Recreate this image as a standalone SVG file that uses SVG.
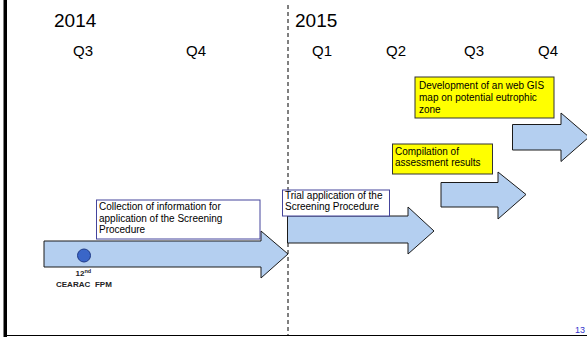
<svg xmlns="http://www.w3.org/2000/svg" width="587" height="337" viewBox="0 0 587 337">
  <style>
    .yr { font-family: "Liberation Sans", Arial, sans-serif; font-size: 19px; fill: #000; }
    .q { font-family: "Liberation Sans", Arial, sans-serif; font-size: 15px; fill: #000; }
    .lbl { font-family: "Liberation Sans", Arial, sans-serif; font-size: 10px; fill: #000; }
    .arrow { fill: #b4cff0; stroke: #1a1a1a; stroke-width: 1; }
    .box { fill: #ffffff; stroke: #44449c; stroke-width: 1; }
    .ybox { fill: #ffff00; stroke: #333333; stroke-width: 1; }
    .mark { font-family: "Liberation Sans", Arial, sans-serif; font-weight: bold; fill: #222; }
  </style>

  <rect width="587" height="337" fill="#ffffff"/>

  <!-- frame -->
  <rect x="3.5" y="0" width="3.5" height="337" fill="#000"/>
  <line x1="4" y1="335.5" x2="587" y2="335.5" stroke="#000" stroke-width="1"/>

  <!-- year divider -->
  <line x1="288" y1="5" x2="288" y2="335" stroke="#000" stroke-width="1" stroke-dasharray="4 3"/>

  <!-- timeline headings -->
  <g id="axis">
    <text class="yr" x="54" y="27">2014</text>
    <text class="q" x="73" y="56">Q3</text>
    <text class="q" x="186" y="56">Q4</text>
    <text class="yr" x="295" y="27">2015</text>
    <text class="q" x="312" y="56">Q1</text>
    <text class="q" x="386" y="56">Q2</text>
    <text class="q" x="464" y="56">Q3</text>
    <text class="q" x="538" y="56">Q4</text>
  </g>

  <!-- activity arrows -->
  <g id="connectors">
    <path class="arrow" d="M44,241 H261 V231 L288,254 L261,278 V267 H44 Z"/>
    <path class="arrow" d="M287.5,216 H408 V207 L434,231 L408,254 V243 H287.5 Z"/>
    <path class="arrow" d="M441,182.5 H498 V172 L526,194.5 L498,219 V207 H441 Z"/>
    <path class="arrow" d="M512.5,124.5 H561 V113 L589,137 L561,161.5 V150 H512.5 Z"/>
  </g>

  <g id="collection">
    <rect class="box" x="96.5" y="200" width="163.5" height="39"/>
    <text class="lbl" x="99" y="210">Collection of information for</text>
    <text class="lbl" x="99" y="221.5">application of the Screening</text>
    <text class="lbl" x="99" y="233">Procedure</text>
  </g>

  <g id="trial">
    <rect class="box" x="282.5" y="190" width="107" height="26"/>
    <text class="lbl" x="285" y="198.5">Trial application of the</text>
    <text class="lbl" x="285" y="209.5">Screening Procedure</text>
  </g>

  <g id="compilation">
    <rect class="ybox" x="392.5" y="144" width="100" height="30"/>
    <text class="lbl" x="395" y="155">Compilation of</text>
    <text class="lbl" x="395" y="166">assessment results</text>
  </g>

  <g id="webgis">
    <rect class="ybox" x="415" y="77" width="139" height="41"/>
    <text class="lbl" x="419" y="89">Development of an web GIS</text>
    <text class="lbl" x="419" y="100.5">map on potential eutrophic</text>
    <text class="lbl" x="419" y="112.5">zone</text>
  </g>

  <g id="fpm">
    <circle cx="84" cy="255.5" r="6.5" fill="#3a66c8" stroke="#1f3a88" stroke-width="1"/>
    <text class="mark" x="75.5" y="276" font-size="8">12<tspan font-size="5.5" dy="-3">nd</tspan></text>
    <text class="mark" x="56" y="286.5" font-size="8" word-spacing="2.5">CEARAC FPM</text>
  </g>

  <!-- page number -->
  <text x="585" y="333" text-anchor="end" font-family="Liberation Sans, Arial, sans-serif" font-size="9" fill="#3333cc">13</text>
</svg>
